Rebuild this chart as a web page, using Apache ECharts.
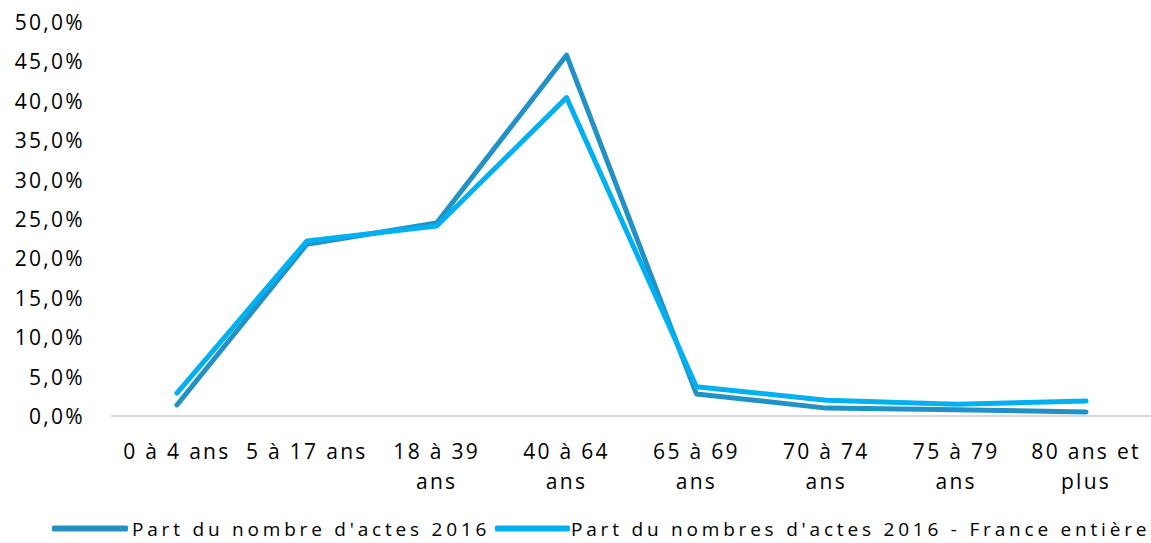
<!DOCTYPE html>
<html><head><meta charset="utf-8">
<script src="https://cdn.jsdelivr.net/npm/echarts@6/dist/echarts.min.js"></script>
<style>
html,body{margin:0;padding:0;background:#fff}
#c{width:1151px;height:543px;letter-spacing:2.3px}
#c text[style*="19px"]{letter-spacing:3.8px}
</style>
</head><body><div id="c"></div>
<script>
const categories = ["0 à 4 ans", "5 à 17 ans", "18 à 39\nans", "40 à 64\nans", "65 à 69\nans", "70 à 74\nans", "75 à 79\nans", "80 ans et\nplus"];
const seriesNames = ["Part du nombre d'actes 2016", "Part du nombres d'actes 2016 - France entière"];
const localValues = [1.4, 21.8, 24.5, 45.8, 2.8, 1.0, 0.8, 0.5];
const franceValues = [2.9, 22.2, 24.1, 40.4, 3.7, 2.0, 1.5, 1.9];
const yTicks = [0, 5, 10, 15, 20, 25, 30, 35, 40, 45, 50];

const font = "'Open Sans', sans-serif";
const chart = echarts.init(document.getElementById('c'), null, {renderer: 'svg'});
const legendBase = {
  top: 514, itemWidth: 76, itemHeight: 6, icon: 'roundRect', itemGap: 0,
  textStyle: {fontFamily: font, fontSize: 19, color: '#000', padding: [0,0,0,-1]}
};
chart.setOption({
  animation: false,
  backgroundColor: '#fff',
  grid: {left: 112, top: 22, width: 1043, height: 394, containLabel: false},
  legend: [
    Object.assign({}, legendBase, {left: 47, data: [seriesNames[0]]}),
    Object.assign({}, legendBase, {left: 490, itemWidth: 75,
      textStyle: {fontFamily: font, fontSize: 19, color: '#000', padding: [0,0,0,-4]},
      data: [seriesNames[1]]})
  ],
  xAxis: {
    type: 'category', data: categories, boundaryGap: true,
    axisLine: {lineStyle: {color: '#D9D9D9', width: 2}},
    axisTick: {show: false},
    axisLabel: {interval: 0, margin: 20, fontFamily: font, fontSize: 21, color: '#000', lineHeight: 30}
  },
  yAxis: {
    type: 'value', min: yTicks[0], max: yTicks[yTicks.length-1], interval: 5,
    axisLine: {show: false}, axisTick: {show: false}, splitLine: {show: false},
    axisLabel: {margin: 27, fontFamily: font, fontSize: 21, color: '#000',
      formatter: v => v.toFixed(1).replace('.', ',') + '%'}
  },
  series: [
    {name: seriesNames[0], type: 'line', data: localValues, symbol: 'none',
     lineStyle: {color: '#2291C6', width: 5, cap: 'round', join: 'round'}, itemStyle: {color: '#2291C6'}},
    {name: seriesNames[1], type: 'line', data: franceValues, symbol: 'none',
     lineStyle: {color: '#00B0F0', width: 5, cap: 'round', join: 'round'}, itemStyle: {color: '#00B0F0'}}
  ]
});
</script></body></html>
